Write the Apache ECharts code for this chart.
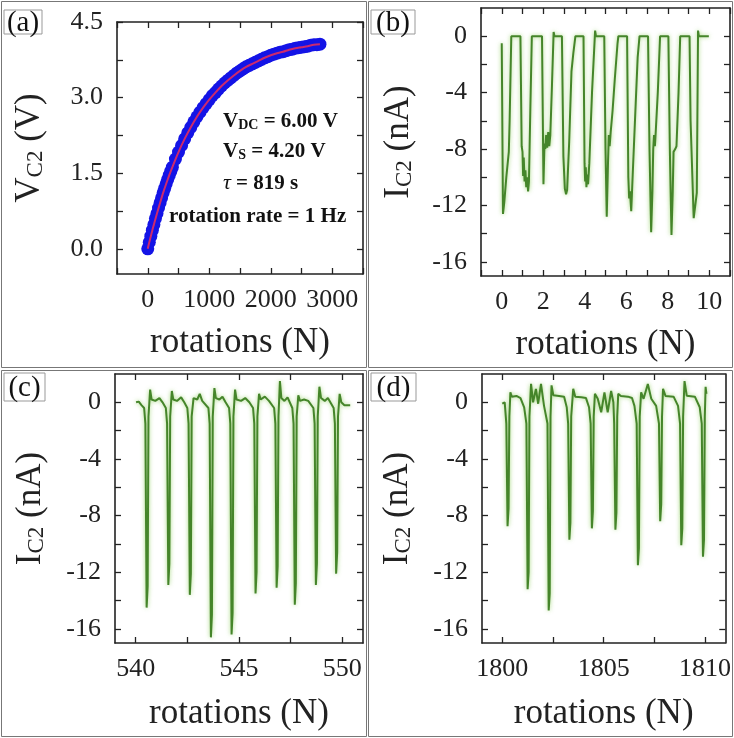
<!DOCTYPE html>
<html><head><meta charset="utf-8">
<script src="https://cdn.jsdelivr.net/npm/echarts@6/dist/echarts.min.js"></script>
<style>html,body{margin:0;padding:0;background:#fff}#c{width:734px;height:738px}</style>
</head><body><div id="c"></div>
<script>
// ---------- panel (a): V_C2 vs rotations ----------
const aRot = [0,25,50,75,100,125,150,175,200,225,250,275,300,325,350,375,400,450,500,550,600,650,700,750,800,850,900,950,1000,1050,1100,1150,1200,1250,1300,1350,1400,1450,1500,1550,1600,1650,1700,1750,1800,1850,1900,1950,2000,2050,2100,2150,2200,2250,2300,2350,2400,2450,2500,2550,2600,2650,2700,2750,2800];
const aVolt = [0.00,0.13,0.25,0.37,0.48,0.60,0.70,0.81,0.91,1.01,1.11,1.20,1.29,1.38,1.46,1.54,1.62,1.78,1.92,2.05,2.18,2.30,2.41,2.52,2.62,2.71,2.80,2.88,2.96,3.04,3.10,3.17,3.23,3.29,3.34,3.39,3.44,3.49,3.53,3.57,3.61,3.64,3.67,3.70,3.73,3.76,3.79,3.81,3.84,3.86,3.88,3.90,3.91,3.93,3.95,3.96,3.98,3.99,4.00,4.01,4.02,4.04,4.05,4.05,4.06];
const aFitRot = [0,25,50,75,100,150,200,250,300,350,400,500,600,700,800,900,1000,1100,1200,1300,1400,1500,1600,1700,1800,1900,2000,2100,2200,2300,2400,2500,2600,2700,2800];
const aFitVolt = [0.00,0.13,0.25,0.37,0.48,0.70,0.91,1.11,1.29,1.46,1.62,1.92,2.18,2.41,2.62,2.80,2.96,3.10,3.23,3.34,3.44,3.53,3.61,3.67,3.73,3.79,3.84,3.88,3.91,3.95,3.98,4.00,4.02,4.05,4.06];
const aXTicks = [-500,0,500,1000,1500,2000,2500,3000,3500];
const aXLabels = [0,1000,2000,3000];
const aYTicks = [0,0.75,1.5,2.25,3,3.75,4.5];
const aYLabels = [0,1.5,3,4.5];

// ---------- panel (b): I_C2, rotations 0-10 ----------
const bRot = [0.00,0.06,0.12,0.22,0.34,0.38,0.46,0.90,
 0.96,1.00,1.03,1.06,1.10,1.14,1.18,1.22,1.27,1.31,1.38,1.45,1.94,
 2.01,2.06,2.10,2.14,2.19,2.24,2.29,2.34,2.42,2.50,2.54,2.90,
 2.97,3.04,3.10,3.15,3.25,3.36,3.45,3.55,3.94,
 3.99,4.02,4.05,4.08,4.12,4.16,4.22,4.35,4.50,4.54,4.94,
 5.00,5.06,5.12,5.16,5.20,5.25,5.34,5.45,5.58,5.62,6.04,
 6.10,6.14,6.18,6.24,6.32,6.42,6.55,6.64,7.05,
 7.12,7.20,7.26,7.30,7.34,7.38,7.42,7.52,7.63,8.03,
 8.10,8.18,8.24,8.28,8.36,8.42,8.52,8.60,9.05,
 9.10,9.25,9.40,9.46,9.50,9.98];
const bCur = [-0.5,-12.6,-11.8,-10.0,-8.2,-6.0,0,0,
 -7.8,-8.2,-9.9,-8.6,-10.3,-9.5,-10.7,-10.0,-11.0,-10.3,-5.0,0,0,
 -10.5,-7.6,-8.0,-7.0,-7.9,-6.8,-7.8,-7.0,-3.5,0.3,0,0,
 -8.5,-10.8,-11.2,-10.9,-7.5,-2.5,-1.2,0,0,
 -9.0,-10.3,-9.3,-10.7,-9.8,-10.5,-9.0,-4.0,0.4,0,0,
 -8.0,-12.8,-9.0,-7.0,-7.8,-6.8,-5.3,-3.0,-0.5,0,0,
 -10.0,-11.5,-11.0,-12.4,-9.5,-6.0,-1.5,0,0,
 -8.0,-13.9,-11.0,-8.0,-7.0,-7.8,-6.8,-4.0,0,0,
 -8.0,-14.1,-11.0,-8.2,-8.0,-7.8,-4.0,0,0,
 -6.0,-12.9,-11.1,0.4,0,0];
const bXTicks = [-1,0,1,2,3,4,5,6,7,8,9,10,11];
const bXLabels = [0,2,4,6,8,10];
const iYTicks = [-16,-14,-12,-10,-8,-6,-4,-2,0];
const iYLabels = [-16,-12,-8,-4,0];

// ---------- panel (c): rotations 540-550 ----------
const cRot = [540.02,540.15,540.28,540.41,540.47,540.53,540.58,540.62,540.70,540.77,540.95,541.15,541.30,
 541.46,541.52,541.58,541.63,541.67,541.75,541.82,542.00,542.20,542.35,
 542.50,542.56,542.62,542.67,542.71,542.80,542.98,543.10,543.22,
 543.52,543.58,543.64,543.69,543.73,543.81,543.88,544.05,544.20,544.35,
 544.52,544.58,544.64,544.69,544.73,544.81,544.88,545.10,545.30,545.50,
 545.68,545.74,545.80,545.85,545.89,545.97,546.05,546.25,546.45,
 546.70,546.76,546.82,546.87,546.91,546.98,547.05,547.20,547.35,
 547.58,547.64,547.70,547.75,547.79,547.87,547.95,548.15,548.35,
 548.60,548.66,548.72,548.77,548.81,548.89,548.97,549.15,549.30,
 549.58,549.64,549.70,549.75,549.79,549.87,549.95,550.10,550.38];
const cCur = [0.0,0.05,-0.2,-0.4,-1.5,-14.5,-13.0,-1.0,0.9,0.2,0.1,0.3,0.0,
 -0.4,-1.5,-12.9,-11.4,-1.0,0.8,0.2,0.1,0.35,0.0,
 -0.4,-1.5,-13.6,-12.1,-1.0,0.3,0.2,0.6,0.1,
 -0.4,-1.5,-16.6,-15.0,-1.0,1.0,0.3,0.2,0.4,0.0,
 -0.4,-1.5,-16.4,-14.9,-1.0,0.9,0.2,0.1,0.3,0.0,
 -0.4,-1.5,-13.5,-12.0,-1.0,0.6,0.2,0.4,0.1,
 -0.4,-1.5,-13.1,-11.6,-1.0,1.5,0.3,0.1,0.35,
 -0.4,-1.5,-14.3,-12.8,-1.0,0.5,0.1,0.2,0.1,
 -0.4,-1.5,-12.9,-11.4,-1.0,1.1,0.3,0.1,0.3,
 -0.4,-1.5,-12.1,-10.6,-1.0,0.6,0.0,-0.2,-0.2];
const cXTicks = [540,542.5,545,547.5,550];
const cXLabels = [540,545,550];

// ---------- panel (d): rotations 1800-1810 ----------
const dRot = [1800.00,1800.12,1800.20,1800.26,1800.31,1800.35,1800.40,1800.47,1800.70,1800.90,1801.08,
 1801.19,1801.25,1801.30,1801.34,1801.42,1801.52,1801.66,1801.77,1801.91,1802.06,
 1802.23,1802.29,1802.34,1802.38,1802.43,1802.52,1802.80,1803.05,1803.18,
 1803.25,1803.31,1803.36,1803.40,1803.50,1803.60,1803.90,1804.13,1804.28,
 1804.36,1804.42,1804.47,1804.51,1804.57,1804.71,1804.88,1805.04,1805.20,1805.37,1805.48,
 1805.52,1805.58,1805.63,1805.67,1805.72,1805.85,1806.20,1806.40,1806.52,
 1806.63,1806.69,1806.74,1806.78,1806.85,1806.97,1807.18,1807.35,1807.59,
 1807.73,1807.79,1807.84,1807.88,1807.93,1808.05,1808.45,1808.67,
 1808.77,1808.83,1808.88,1808.92,1808.99,1809.10,1809.50,1809.74,
 1809.84,1809.90,1809.95,1809.99,1810.03,1810.07];
const dCur = [-0.1,0.0,-1.5,-8.75,-7.5,-1.0,0.7,0.4,0.45,0.3,-0.35,
 -1.5,-13.2,-12.0,-1.0,1.3,0.0,0.95,-0.1,1.3,-0.25,
 -1.5,-14.7,-13.5,-1.0,1.2,0.5,0.45,0.4,-0.35,
 -1.5,-9.7,-8.5,-1.0,0.95,0.4,0.35,0.3,-0.35,
 -1.5,-8.9,-7.7,-1.0,0.6,0.25,-0.7,0.7,-0.7,0.8,0.0,
 -1.5,-9.0,-7.8,-1.0,0.6,0.45,0.4,0.3,-0.25,
 -1.5,-11.5,-10.3,-1.0,0.7,0.25,1.3,0.25,-0.25,
 -1.5,-8.4,-7.2,-1.0,0.95,0.45,0.4,-0.25,
 -1.5,-10.1,-8.9,-1.0,1.5,0.47,0.4,-0.35,
 -1.5,-10.9,-9.7,-1.0,1.1,0.6];
const dXTicks = [1800,1802.5,1805,1807.5,1810];
const dXLabels = [1800,1805,1810];

// ---------- build chart ----------
const F = '"Liberation Serif","Times New Roman",serif';
const INK = '#222';
const GREEN = '#45852a';
const zip = (xs, ys) => xs.map((x, i) => [x, ys[i]]);

function xPair(gi, min, max, ticks, labels, fmt, gap) {
  const base = {
    gridIndex: gi, type: 'value', min: min, max: max,
    axisLine: { show: true, onZero: false, lineStyle: { color: INK, width: 1.6 } },
    axisTick: { show: true, inside: true, length: 6, customValues: ticks, lineStyle: { color: INK, width: 1.3 } },
    splitLine: { show: false }
  };
  return [
    Object.assign({}, base, {
      position: 'bottom',
      axisLabel: { show: true, customValues: labels, margin: 13, fontSize: 26, fontFamily: F, color: INK, formatter: fmt },
      name: 'rotations (N)', nameLocation: 'middle', nameGap: gap,
      nameTextStyle: { fontSize: 35, fontFamily: F, color: INK }
    }),
    Object.assign({}, base, { position: 'top', axisLabel: { show: false } })
  ];
}
function yPair(gi, min, max, ticks, labels, fmt, name, gap) {
  const base = {
    gridIndex: gi, type: 'value', min: min, max: max,
    axisLine: { show: true, onZero: false, lineStyle: { color: INK, width: 1.6 } },
    axisTick: { show: true, inside: true, length: 6, customValues: ticks, lineStyle: { color: INK, width: 1.3 } },
    splitLine: { show: false }
  };
  return [
    Object.assign({}, base, {
      position: 'left',
      axisLabel: { show: true, customValues: labels, margin: 14, fontSize: 26, fontFamily: F, color: INK, formatter: fmt },
      name: name, nameLocation: 'middle', nameGap: gap,
      nameTextStyle: {
        fontFamily: F, color: INK,
        rich: {
          n: { fontSize: 35, fontFamily: F, color: INK, lineHeight: 40, verticalAlign: 'bottom' },
          s: { fontSize: 23, fontFamily: F, color: INK, lineHeight: 26, verticalAlign: 'bottom' }
        }
      }
    }),
    Object.assign({}, base, { position: 'right', axisLabel: { show: false } })
  ];
}

const plain = v => String(v);
const oneDec = v => v.toFixed(1);
const iName = '{n|I}{s|C2}{n| (nA)}';

const greenLine = (xi, data) => ({
  type: 'line', xAxisIndex: xi, yAxisIndex: xi, data: data, showSymbol: false,
  lineStyle: { color: GREEN, width: 2, shadowColor: 'rgba(140,205,90,0.8)', shadowBlur: 4 },
  silent: true
});

const annBold = { fontSize: 21, fontWeight: 'bold', fontFamily: F, fill: '#111', lineHeight: 24, verticalAlign: 'bottom' };
const annSub = { fontSize: 14, fontWeight: 'bold', fontFamily: F, fill: '#111', lineHeight: 14, verticalAlign: 'bottom' };
const annTau = { fontSize: 22, fontStyle: 'italic', fontFamily: F, fill: '#111', lineHeight: 24, verticalAlign: 'bottom' };

function panelBox(x, y, w, h) {
  return { type: 'rect', silent: true, shape: { x: x, y: y, width: w, height: h }, style: { fill: 'none', stroke: '#777', lineWidth: 1 } };
}
function tagBox(x, y, w, h, t) {
  return [
    { type: 'rect', silent: true, shape: { x: x, y: y, width: w, height: h }, style: { fill: 'none', stroke: '#999', lineWidth: 1 } },
    { type: 'text', silent: true, style: { text: t, x: x + w / 2, y: y + h / 2 + 1, align: 'center', verticalAlign: 'middle', fontSize: 29, fontFamily: F, fill: '#111' } }
  ];
}
function ann(x, y, text) {
  return { type: 'text', silent: true, z: 100, style: { text: text, x: x, y: y, align: 'left', verticalAlign: 'middle', rich: { b: annBold, s: annSub, t: annTau } } };
}

const xa = xPair(0, -500, 3500, aXTicks, aXLabels, plain, 51);
const xb = xPair(1, -1, 11, bXTicks, bXLabels, plain, 51);
const xc = xPair(2, 539, 551, cXTicks, cXLabels, plain, 53);
const xd = xPair(3, 1799, 1811, dXTicks, dXLabels, plain, 53);
const ya = yPair(0, -0.5, 4.5, aYTicks, aYLabels, oneDec, '{n|V}{s|C2}{n| (V)}', 70);
const yb = yPair(1, -17, 2, iYTicks, iYLabels, plain, iName, 65);
const yc = yPair(2, -17, 2, iYTicks, iYLabels, plain, iName, 67);
const yd = yPair(3, -17, 2, iYTicks, iYLabels, plain, iName, 67);

const option = {
  animation: false,
  backgroundColor: '#fff',
  grid: [
    { left: 117, top: 22, width: 246, height: 252 },
    { left: 481, top: 8, width: 249, height: 268 },
    { left: 115, top: 374, width: 248, height: 269 },
    { left: 482, top: 374, width: 248, height: 269 }
  ],
  xAxis: [].concat(xa, xb, xc, xd),
  yAxis: [].concat(ya, yb, yc, yd),
  series: [
    { type: 'scatter', xAxisIndex: 0, yAxisIndex: 0, data: zip(aRot, aVolt), symbol: 'circle', symbolSize: 13,
      itemStyle: { color: '#1414e6', opacity: 1 }, silent: true, z: 2 },
    { type: 'line', xAxisIndex: 0, yAxisIndex: 0, data: zip(aFitRot, aFitVolt), showSymbol: false, smooth: 0.3,
      lineStyle: { color: '#cc2a6e', width: 2 }, silent: true, z: 3 },
    greenLine(2, zip(bRot, bCur)),
    greenLine(4, zip(cRot, cCur)),
    greenLine(6, zip(dRot, dCur))
  ],
  graphic: [].concat(
    [panelBox(1.5, 1.5, 365, 366), panelBox(368.5, 1.5, 364, 366), panelBox(1.5, 370.5, 365, 366), panelBox(368.5, 370.5, 364, 366)],
    tagBox(4, 10, 38, 24, '(a)'), tagBox(371, 10, 44, 24, '(b)'),
    tagBox(4, 373, 41, 28, '(c)'), tagBox(371, 373, 45, 28, '(d)'),
    [ann(223, 120, '{b|V}{s|DC}{b| = 6.00 V}'),
     ann(223, 150, '{b|V}{s|S}{b| = 4.20 V}'),
     ann(223, 182, '{t|τ}{b| = 819 s}'),
     ann(169, 215, '{b|rotation rate = 1 Hz}')]
  )
};
const chart = echarts.init(document.getElementById('c'), null, { renderer: 'canvas' });
chart.setOption(option);
</script></body></html>
